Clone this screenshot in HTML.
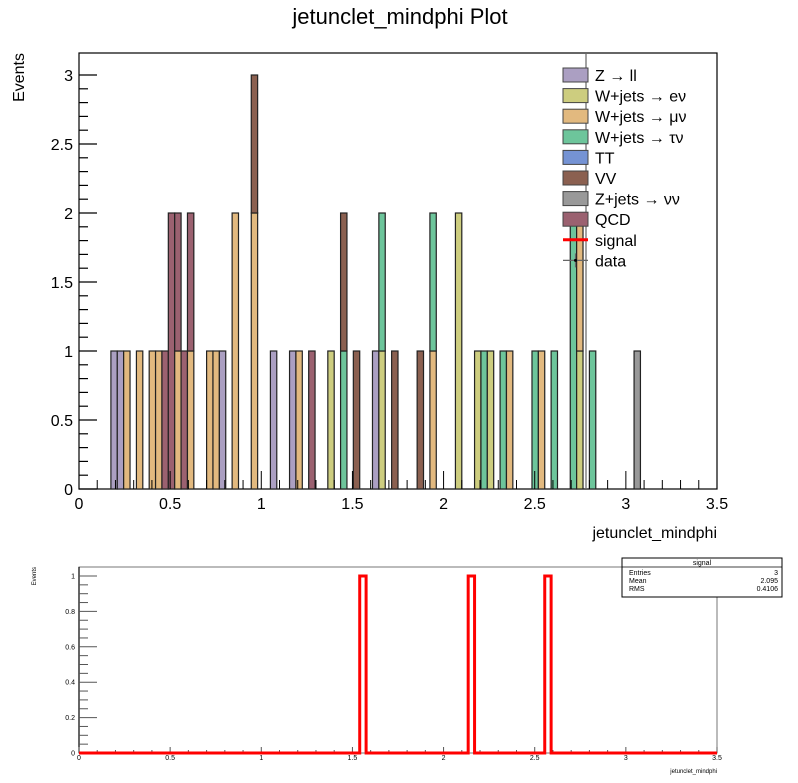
<!DOCTYPE html>
<html><head><meta charset="utf-8"><style>
body{margin:0;background:#fff;font-family:"Liberation Sans",sans-serif}
svg text{font-family:"Liberation Sans","DejaVu Sans",sans-serif}
</style></head><body>
<svg id="c" width="798" height="778" xmlns="http://www.w3.org/2000/svg"></svg>
<script>
const nbins = 100, xmax = 3.5;
const seriesNames = ["Z \u2192 ll","W+jets \u2192 e\u03bd","W+jets \u2192 \u03bc\u03bd","W+jets \u2192 \u03c4\u03bd","TT","VV","Z+jets \u2192 \u03bd\u03bd","QCD"];
const seriesColors = ["#ab9fc2","#cdcd7f","#e2b97f","#6dc59b","#7593d4","#8b6050","#999999","#9b6170"];
// bin index -> count, per series
const zll   = {5:1,6:1,22:1,30:1,33:1,46:1};
const wenu  = {39:1,47:1,59:2,62:1,64:1,78:1};
const wmunu = {7:1,9:1,11:1,12:1,15:1,17:1,20:1,21:1,24:2,27:2,34:1,55:1,67:1,72:1,78:1};
const wtaunu= {41:1,47:1,55:1,63:1,66:1,71:1,74:1,77:2,80:1};
const tt    = {};
const vv    = {27:1,41:1,43:1,49:1,53:1};
const zjets = {87:1};
const qcd   = {13:1,14:2,15:1,16:1,17:1,36:1};
const stackSeries = [zll,wenu,wmunu,wtaunu,tt,vv,zjets,qcd];
const signalBins = {44:1,61:1,73:1};
const yTicksMain = [0,0.5,1,1.5,2,2.5,3];
const xTicks = [0,0.5,1,1.5,2,2.5,3,3.5];
const yTicksRatio = [0,0.2,0.4,0.6,0.8,1];
const stats = [["Entries","3"],["Mean","2.095"],["RMS","0.4106"]];

const S = document.getElementById('c');
const NS = "http://www.w3.org/2000/svg";
function mk(tag, at, parent){const e=document.createElementNS(NS,tag);for(const k in at)e.setAttribute(k,at[k]);(parent||S).appendChild(e);return e;}

// main pad
const X0=79,X1=717,Y0=489,YT=53,YMAX=3.15;
const sx=v=>X0+(X1-X0)*v/xmax;
const sy=v=>Y0-(Y0-75)*v/3;
const bw=xmax/nbins;
mk('rect',{x:X0,y:YT,width:X1-X0,height:Y0-YT,fill:'none',stroke:'#000','stroke-width':1.2});
for(let b=0;b<nbins;b++){
  let base=0;
  stackSeries.forEach((s,si)=>{
    const v=s[b]||0; if(!v) return;
    const r=mk('rect',{x:sx(b*bw),y:sy(base+v),width:sx((b+1)*bw)-sx(b*bw),height:sy(base)-sy(base+v),fill:seriesColors[si],stroke:'#222','stroke-width':1.2});
    
    
    base+=v;
  });
}
mk('line',{x1:586,y1:YT,x2:586,y2:Y0,stroke:'#666','stroke-width':1.2});
// axes ticks
for(let v=0;v<=3.1;v+=0.1){const y=sy(v);const maj=Math.abs(v/0.5-Math.round(v/0.5))<1e-6;mk('line',{x1:X0,y1:y,x2:X0+(maj?18:9),y2:y,stroke:'#000','stroke-width':1.2});}
yTicksMain.forEach(v=>{const t=mk('text',{x:X0-6,y:sy(v)+6,'text-anchor':'end','font-size':16});t.textContent=v;});
for(let v=0;v<=3.5001;v+=0.1){const x=sx(v);const maj=Math.abs(v/0.5-Math.round(v/0.5))<1e-6;mk('line',{x1:x,y1:Y0,x2:x,y2:Y0-(maj?18:9),stroke:'#000','stroke-width':1});}
xTicks.forEach(v=>{const t=mk('text',{x:sx(v),y:Y0+20,'text-anchor':'middle','font-size':16});t.textContent=v;});
let t=mk('text',{x:400,y:24,'text-anchor':'middle','font-size':22});t.textContent='jetunclet_mindphi Plot';
t=mk('text',{x:717,y:538,'text-anchor':'end','font-size':16});t.textContent='jetunclet_mindphi';
t=mk('text',{x:0,y:0,'text-anchor':'end','font-size':16,transform:'translate(24,53) rotate(-90)'});t.textContent='Events';
// legend
const legendLabels=seriesNames.concat(['signal','data']);
legendLabels.forEach((n,i)=>{
  const y=75+i*20.6;
  const g=mk('g',{});
  
  
  if(i<8) mk('rect',{x:563,y:y-7,width:25,height:14,fill:seriesColors[i],stroke:'#444','stroke-width':1},g);
  else if(i==8) mk('line',{x1:563,y1:y,x2:588,y2:y,stroke:'#f00','stroke-width':3},g);
  else {mk('line',{x1:563,y1:y,x2:588,y2:y,stroke:'#666','stroke-width':1.2},g);mk('line',{x1:575.5,y1:y-7,x2:575.5,y2:y+7,stroke:'#666','stroke-width':1.2},g);mk('circle',{cx:575.5,cy:y,r:1.5,fill:'#000'},g);}
  const tx=mk('text',{x:595,y:y+6,'font-size':16},g);tx.textContent=n;
});

// ratio pad
const RX0=79,RX1=717,RY0=753,RYT=567;
const rsx=v=>RX0+(RX1-RX0)*v/xmax;
const rsy=v=>RY0-(RY0-576)*v;
mk('rect',{x:RX0,y:RYT,width:RX1-RX0,height:RY0-RYT,fill:'none',stroke:'#777','stroke-width':1});
mk('line',{x1:RX0,y1:RYT,x2:RX0,y2:RY0,stroke:'#000','stroke-width':1.2});
for(let i=0;i<=20;i++){const v=i*0.05;const maj=i%4==0;mk('line',{x1:RX0,y1:rsy(v),x2:RX0+(maj?18:9),y2:rsy(v),stroke:'#555','stroke-width':1});}
yTicksRatio.forEach(v=>{const tt2=mk('text',{x:RX0-4,y:rsy(v)+2.5,'text-anchor':'end','font-size':7});tt2.textContent=v;});
for(let v=0;v<=3.5001;v+=0.1){const maj=Math.abs(v/0.5-Math.round(v/0.5))<1e-6;mk('line',{x1:rsx(v),y1:RY0,x2:rsx(v),y2:RY0-(maj?6:3),stroke:'#555','stroke-width':1});}
xTicks.forEach(v=>{const tt2=mk('text',{x:rsx(v),y:RY0+7,'text-anchor':'middle','font-size':7});tt2.textContent=v;});
t=mk('text',{x:717,y:773,'text-anchor':'end','font-size':6});t.textContent='jetunclet_mindphi';
t=mk('text',{x:0,y:0,'text-anchor':'end','font-size':6,transform:'translate(36,567) rotate(-90)'});t.textContent='Events';
let d='M'+rsx(0)+','+rsy(0);
for(let b=0;b<nbins;b++){const v=signalBins[b]||0;d+=' L'+rsx(b*bw)+','+rsy(v)+' L'+rsx((b+1)*bw)+','+rsy(v);}
d+=' L'+rsx(xmax)+','+rsy(0);
const sig=mk('path',{d:d,fill:'none',stroke:'#f00','stroke-width':3});


// stats box
const sb=mk('g',{});


mk('rect',{x:622,y:558,width:160,height:39,fill:'#fff',stroke:'#000','stroke-width':1},sb);
mk('line',{x1:622,y1:567,x2:782,y2:567,stroke:'#000','stroke-width':0.8},sb);
t=mk('text',{x:702,y:565,'text-anchor':'middle','font-size':7},sb);t.textContent='signal';
stats.forEach((r,i)=>{const y=575+i*8;let a=mk('text',{x:629,y:y,'font-size':7},sb);a.textContent=r[0];a=mk('text',{x:778,y:y,'text-anchor':'end','font-size':7},sb);a.textContent=r[1];});
</script>
</body></html>
